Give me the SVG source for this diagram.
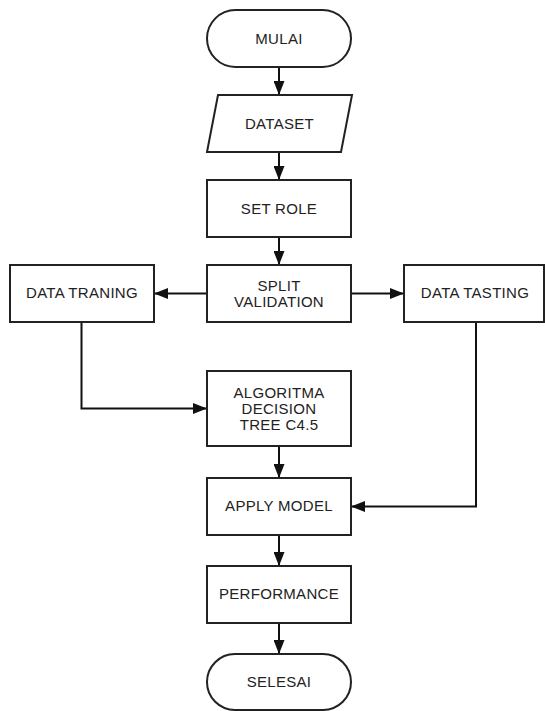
<svg xmlns="http://www.w3.org/2000/svg" width="545" height="711" viewBox="0 0 545 711">
<style>
.box{fill:#fff;stroke:#222;stroke-width:2}
.lbl{font-family:"Liberation Sans",Arial,sans-serif;font-size:15px;letter-spacing:0.3px;fill:#222;text-anchor:middle;dominant-baseline:central}
.con{fill:none;stroke:#111;stroke-width:2}
</style>
<defs>
<marker id="ah" markerUnits="userSpaceOnUse" markerWidth="14" markerHeight="11" refX="14" refY="5.5" orient="auto">
<path d="M0,0 L14,5.5 L0,11 Z" fill="#111"/>
</marker>
</defs>
<rect width="545" height="711" fill="#fff"/>
<g id="connectors">
<path class="con" marker-end="url(#ah)" d="M279,67 V95"/>
<path class="con" marker-end="url(#ah)" d="M279,152 V180"/>
<path class="con" marker-end="url(#ah)" d="M279,237 V265"/>
<path class="con" marker-end="url(#ah)" d="M207,293.5 H154"/>
<path class="con" marker-end="url(#ah)" d="M351,293.5 H404"/>
<path class="con" marker-end="url(#ah)" d="M81.5,322 V408.5 H207"/>
<path class="con" marker-end="url(#ah)" d="M279,446 V478"/>
<path class="con" marker-end="url(#ah)" d="M476,322 V506.5 H351"/>
<path class="con" marker-end="url(#ah)" d="M279,535 V566"/>
<path class="con" marker-end="url(#ah)" d="M279,623 V654"/>
</g>
<g id="mulai">
<rect class="box" x="207" y="10" width="144" height="57" rx="28.5"/>
<text class="lbl" x="279" y="38.5">MULAI</text>
</g>
<g id="dataset">
<polygon class="box" points="218,95 352,95 341,152 207,152"/>
<text class="lbl" x="279.5" y="123.5">DATASET</text>
</g>
<g id="setrole">
<rect class="box" x="207" y="180" width="144" height="57"/>
<text class="lbl" x="279" y="208.5">SET ROLE</text>
</g>
<g id="split">
<rect class="box" x="207" y="265" width="144" height="57"/>
<text class="lbl" x="279" y="285">SPLIT</text>
<text class="lbl" x="279" y="301">VALIDATION</text>
</g>
<g id="training">
<rect class="box" x="10" y="265" width="144" height="57"/>
<text class="lbl" x="82" y="292.5">DATA TRANING</text>
</g>
<g id="testing">
<rect class="box" x="404" y="265" width="140" height="57"/>
<text class="lbl" x="475" y="292.5">DATA TASTING</text>
</g>
<g id="algoritma">
<rect class="box" x="207" y="371" width="144" height="75"/>
<text class="lbl" x="279" y="392">ALGORITMA</text>
<text class="lbl" x="279" y="408">DECISION</text>
<text class="lbl" x="279" y="424">TREE C4.5</text>
</g>
<g id="apply">
<rect class="box" x="207" y="478" width="144" height="57"/>
<text class="lbl" x="279" y="505.5">APPLY MODEL</text>
</g>
<g id="performance">
<rect class="box" x="207" y="566" width="144" height="57"/>
<text class="lbl" x="279" y="593.5">PERFORMANCE</text>
</g>
<g id="selesai">
<rect class="box" x="207" y="654" width="144" height="56" rx="28"/>
<text class="lbl" x="279" y="681">SELESAI</text>
</g>
</svg>
